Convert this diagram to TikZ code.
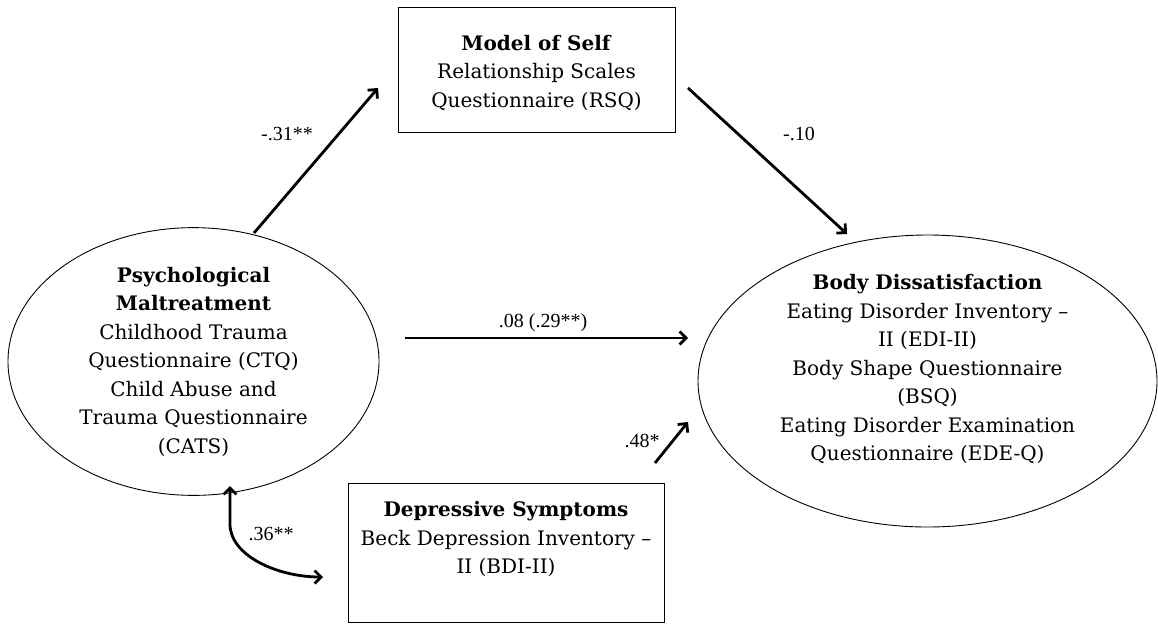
\documentclass[tikz,border=0pt]{standalone}
\usepackage{fontspec}
\setmainfont{DejaVu Serif}
\newfontfamily\labfont{Liberation Serif}
\usetikzlibrary{shapes.geometric,arrows.meta}
\begin{document}
\begin{tikzpicture}[x=1pt,y=-1pt,
  ell/.style={draw, line width=0.9pt, ellipse, inner sep=0pt, align=center,
     font=\fontsize{20}{28.5}\selectfont},
  boxn/.style={draw, line width=1pt, rectangle, inner sep=0pt},
  txt/.style={align=center, font=\fontsize{20}{28.5}\selectfont, inner sep=0pt},
  tip/.style={Straight Barb[length=6.5pt,width=13pt,line width=2.8pt]},
  arr/.style={line width=2.8pt, -{Straight Barb[length=6.5pt,width=13pt,line width=2.8pt]}},
  darr/.style={line width=2.8pt, {Straight Barb[length=6.5pt,width=13pt,line width=2.8pt]}-{Straight Barb[length=6.5pt,width=13pt,line width=2.8pt]}},
  lab/.style={font=\labfont\fontsize{20}{22}\selectfont, inner sep=0pt}]
\useasboundingbox (0,0) rectangle (1158,624);
% nodes
\node[ell, minimum width=371pt, minimum height=243pt] (pm) at (193.5,361.5)
  {\textbf{Psychological}\\\textbf{Maltreatment}\\Childhood Trauma\\Questionnaire (CTQ)\\Child Abuse and\\Trauma Questionnaire\\(CATS)};
\node[ell, minimum width=459pt, minimum height=292pt] (bd) at (927.5,381) {};
\node[txt] (bdt) at (927.5,369)
  {\textbf{Body Dissatisfaction}\\Eating Disorder Inventory --\\II (EDI-II)\\Body Shape Questionnaire\\(BSQ)\\Eating Disorder Examination\\Questionnaire (EDE-Q)};
\node[boxn, minimum width=277pt, minimum height=125pt] (ms) at (536.5,69.5) {};
\node[txt] (mst) at (536.5,73) {\textbf{Model of Self}\\Relationship Scales\\Questionnaire (RSQ)};
\node[boxn, minimum width=316pt, minimum height=139pt] (ds) at (506,552.5) {};
\node[txt] (dst) at (506,539) {\textbf{Depressive Symptoms}\\Beck Depression Inventory --\\II (BDI-II)};
% connector end points
\coordinate (a1s) at (254,233);
\coordinate (a1e) at (378,88);
\coordinate (a2s) at (688,88);
\coordinate (a2e) at (847,234);
\coordinate (a3s) at (405,338);
\coordinate (a3e) at (688,338);
\coordinate (a4s) at (655,463);
\coordinate (a4e) at (688,422);
\coordinate (a5s) at (230,486);
\coordinate (a5e) at (323,577);
% connectors
\draw[arr] (a1s) -- (a1e);
\draw[arr] (a2s) -- (a2e);
\draw[arr] (a3s) -- (a3e);
\draw[arr] (a4s) -- (a4e);
\draw[darr] (a5s) -- ++(0,38) .. controls +(0,32) and +(-45,0) .. (a5e);
% labels
\node[lab] (l1) at (287,134) {-.31**};
\node[lab] (l2) at (799,134) {-.10};
\node[lab] (l3) at (543,323) {.08 (.29**)};
\node[lab] (l4) at (642,441) {.48*};
\node[lab] (l5) at (271,534) {.36**};
\end{tikzpicture}
\end{document}
